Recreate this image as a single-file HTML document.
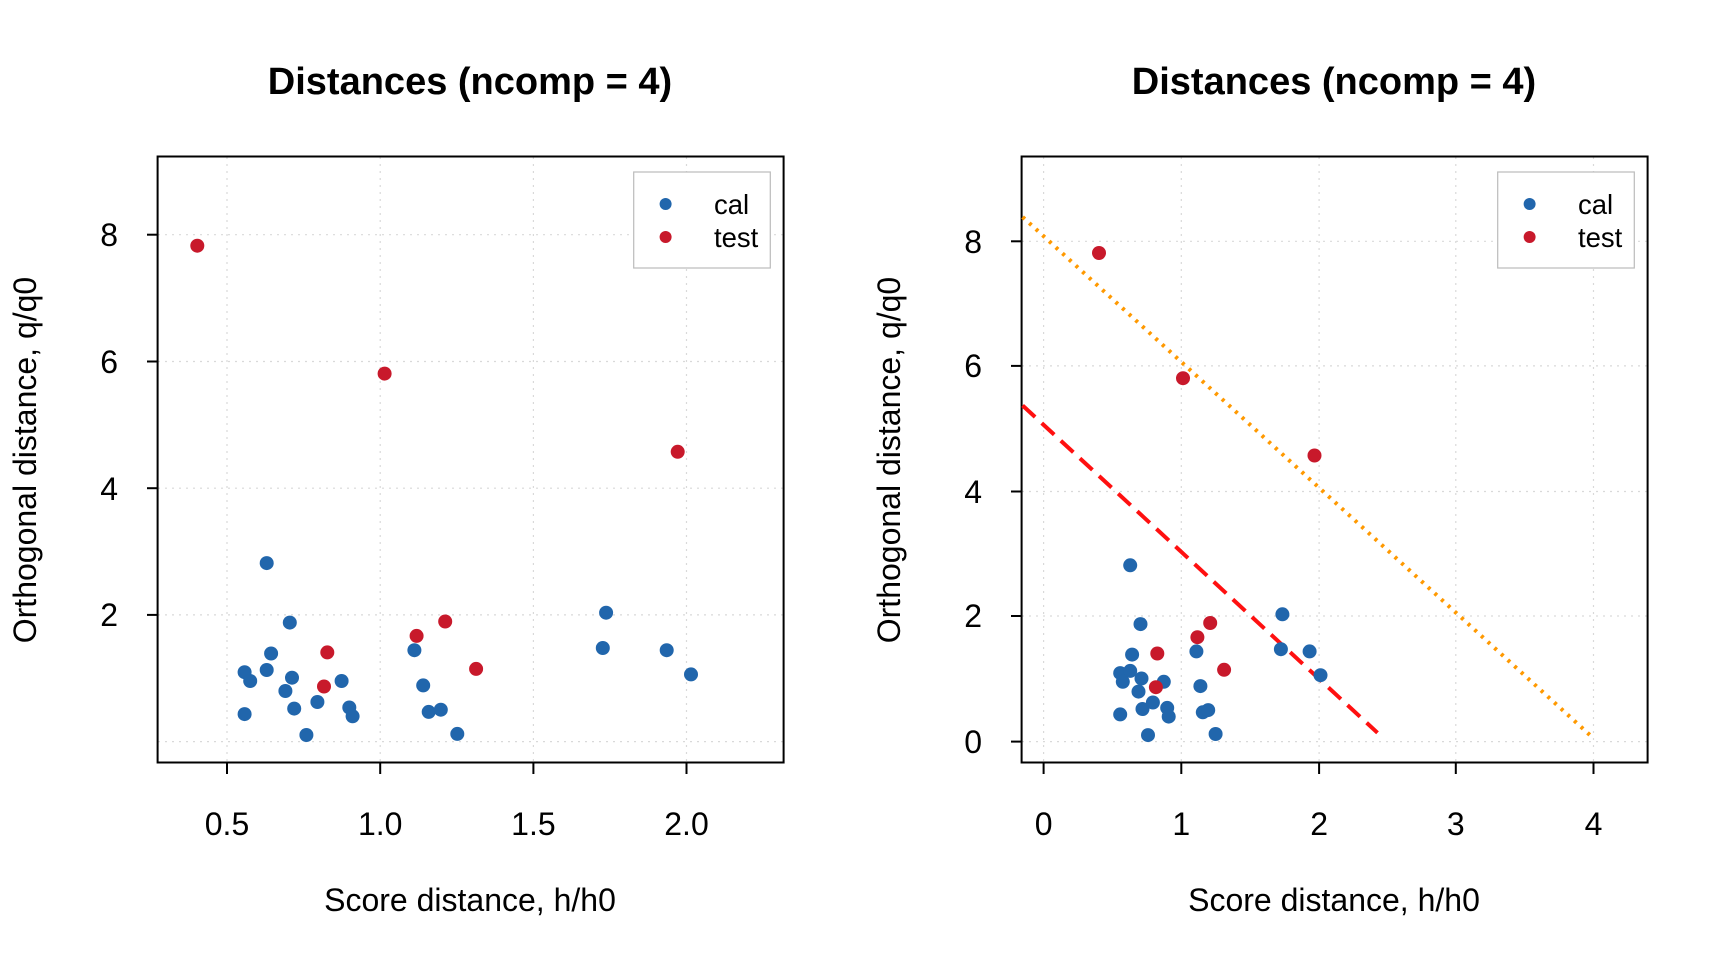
<!DOCTYPE html>
<html><head><meta charset="utf-8"><style>
html,body{margin:0;padding:0;background:#fff;}
svg{display:block;font-family:"Liberation Sans",Arial,sans-serif;}
circle{r:7px;}
</style></head><body>
<svg width="1728" height="960" viewBox="0 0 1728 960" xmlns="http://www.w3.org/2000/svg">
<rect width="1728" height="960" fill="#fff"/>
<!-- LEFT PLOT -->
<g stroke="#d9d9d9" stroke-width="1.2" stroke-dasharray="2,5">
<line x1="227" y1="157" x2="227" y2="763"/><line x1="380.2" y1="157" x2="380.2" y2="763"/>
<line x1="533.4" y1="157" x2="533.4" y2="763"/><line x1="686.5" y1="157" x2="686.5" y2="763"/>
<line x1="158" y1="234.7" x2="784" y2="234.7"/><line x1="158" y1="361.5" x2="784" y2="361.5"/>
<line x1="158" y1="488.2" x2="784" y2="488.2"/><line x1="158" y1="614.9" x2="784" y2="614.9"/>
<line x1="158" y1="741.6" x2="784" y2="741.6"/>
</g>
<rect x="157.6" y="156.5" width="626" height="606" fill="none" stroke="#000" stroke-width="2"/>
<g stroke="#000" stroke-width="2">
<line x1="227" y1="763" x2="227" y2="774"/><line x1="380.2" y1="763" x2="380.2" y2="774"/>
<line x1="533.4" y1="763" x2="533.4" y2="774"/><line x1="686.5" y1="763" x2="686.5" y2="774"/>
<line x1="147" y1="234.7" x2="157.6" y2="234.7"/><line x1="147" y1="361.5" x2="157.6" y2="361.5"/>
<line x1="147" y1="488.2" x2="157.6" y2="488.2"/><line x1="147" y1="614.9" x2="157.6" y2="614.9"/>
</g>
<g font-size="32" fill="#000" text-anchor="middle">
<text x="227" y="835">0.5</text><text x="380.2" y="835">1.0</text><text x="533.4" y="835">1.5</text><text x="686.5" y="835">2.0</text>
</g>
<g font-size="32" fill="#000" text-anchor="end">
<text x="118" y="246">8</text><text x="118" y="373">6</text><text x="118" y="500">4</text><text x="118" y="626">2</text>
</g>
<text x="470" y="94" font-size="38" font-weight="bold" text-anchor="middle">Distances (ncomp = 4)</text>
<text x="470" y="911" font-size="32" text-anchor="middle">Score distance, h/h0</text>
<text transform="translate(36,460) rotate(-90)" font-size="32" text-anchor="middle">Orthogonal distance, q/q0</text>
<g fill="#2166ac">
<circle cx="244.6" cy="714.1" r="7"/><circle cx="244.6" cy="672.2" r="7"/><circle cx="250.2" cy="681" r="7"/>
<circle cx="266.7" cy="563.1" r="7"/><circle cx="266.7" cy="670" r="7"/><circle cx="271.1" cy="653.5" r="7"/>
<circle cx="289.8" cy="622.6" r="7"/><circle cx="285.4" cy="691" r="7"/><circle cx="292" cy="677.7" r="7"/>
<circle cx="294.2" cy="708.6" r="7"/><circle cx="306.4" cy="735" r="7"/><circle cx="317.4" cy="702" r="7"/>
<circle cx="341.6" cy="681" r="7"/><circle cx="349.3" cy="707.5" r="7"/><circle cx="352.6" cy="716.3" r="7"/>
<circle cx="414.4" cy="650.2" r="7"/><circle cx="423.2" cy="685.4" r="7"/><circle cx="428.7" cy="711.9" r="7"/>
<circle cx="440.8" cy="709.7" r="7"/><circle cx="457.3" cy="733.9" r="7"/><circle cx="602.8" cy="648" r="7"/>
<circle cx="606.1" cy="612.7" r="7"/><circle cx="666.7" cy="650.2" r="7"/><circle cx="691" cy="674.4" r="7"/>
</g>
<g fill="#c8192b">
<circle cx="197.3" cy="245.7" r="7"/><circle cx="384.6" cy="373.6" r="7"/><circle cx="677.7" cy="451.8" r="7"/>
<circle cx="327.3" cy="652.4" r="7"/><circle cx="324" cy="686.5" r="7"/><circle cx="416.6" cy="635.9" r="7"/>
<circle cx="445.2" cy="621.5" r="7"/><circle cx="476.1" cy="668.9" r="7"/>
</g>
<rect x="633.7" y="172" width="136.6" height="96" fill="#fff" stroke="#bbb" stroke-width="1.2"/>
<circle cx="665.6" cy="204" r="6" style="r:6px" fill="#2166ac"/><circle cx="665.6" cy="237" r="6" style="r:6px" fill="#c8192b"/>
<g font-size="27.5"><text x="714" y="214">cal</text><text x="714" y="247">test</text></g>

<!-- RIGHT PLOT -->
<g stroke="#d9d9d9" stroke-width="1.2" stroke-dasharray="2,5">
<line x1="1043.6" y1="157" x2="1043.6" y2="763"/><line x1="1181.3" y1="157" x2="1181.3" y2="763"/>
<line x1="1319.1" y1="157" x2="1319.1" y2="763"/><line x1="1455.8" y1="157" x2="1455.8" y2="763"/>
<line x1="1593.5" y1="157" x2="1593.5" y2="763"/>
<line x1="1022" y1="241.3" x2="1647" y2="241.3"/><line x1="1022" y1="365.9" x2="1647" y2="365.9"/>
<line x1="1022" y1="491.5" x2="1647" y2="491.5"/><line x1="1022" y1="616" x2="1647" y2="616"/>
<line x1="1022" y1="741.6" x2="1647" y2="741.6"/>
</g>
<rect x="1021.6" y="156.5" width="626" height="606" fill="none" stroke="#000" stroke-width="2"/>
<g stroke="#000" stroke-width="2">
<line x1="1043.6" y1="763" x2="1043.6" y2="774"/><line x1="1181.3" y1="763" x2="1181.3" y2="774"/>
<line x1="1319.1" y1="763" x2="1319.1" y2="774"/><line x1="1455.8" y1="763" x2="1455.8" y2="774"/>
<line x1="1593.5" y1="763" x2="1593.5" y2="774"/>
<line x1="1011" y1="241.3" x2="1021.6" y2="241.3"/><line x1="1011" y1="365.9" x2="1021.6" y2="365.9"/>
<line x1="1011" y1="491.5" x2="1021.6" y2="491.5"/><line x1="1011" y1="616" x2="1021.6" y2="616"/>
<line x1="1011" y1="741.6" x2="1021.6" y2="741.6"/>
</g>
<g font-size="32" fill="#000" text-anchor="middle">
<text x="1043.6" y="835">0</text><text x="1181.3" y="835">1</text><text x="1319.1" y="835">2</text><text x="1455.8" y="835">3</text><text x="1593.5" y="835">4</text>
</g>
<g font-size="32" fill="#000" text-anchor="end">
<text x="982" y="253">8</text><text x="982" y="377">6</text><text x="982" y="503">4</text><text x="982" y="627">2</text><text x="982" y="753">0</text>
</g>
<text x="1334" y="94" font-size="38" font-weight="bold" text-anchor="middle">Distances (ncomp = 4)</text>
<text x="1334" y="911" font-size="32" text-anchor="middle">Score distance, h/h0</text>
<text transform="translate(900,460) rotate(-90)" font-size="32" text-anchor="middle">Orthogonal distance, q/q0</text>
<line x1="1022.6" y1="217" x2="1593.5" y2="738.3" stroke="#ff9900" stroke-width="4" stroke-dasharray="3,6"/>
<line x1="1022.6" y1="405.5" x2="1377.5" y2="732.8" stroke="#ff1010" stroke-width="4" stroke-dasharray="17,9"/>
<g fill="#2166ac">
<circle cx="1120.2" cy="714.4" r="7"/><circle cx="1120.2" cy="673.1" r="7"/><circle cx="1122.8" cy="681.8" r="7"/>
<circle cx="1130.2" cy="565.3" r="7"/><circle cx="1130.2" cy="670.9" r="7"/><circle cx="1132.1" cy="654.6" r="7"/>
<circle cx="1140.5" cy="624.1" r="7"/><circle cx="1138.5" cy="691.6" r="7"/><circle cx="1141.5" cy="678.5" r="7"/>
<circle cx="1142.5" cy="709" r="7"/><circle cx="1148" cy="735.1" r="7"/><circle cx="1152.9" cy="702.5" r="7"/>
<circle cx="1163.8" cy="681.8" r="7"/><circle cx="1167.2" cy="707.9" r="7"/><circle cx="1168.7" cy="716.6" r="7"/>
<circle cx="1196.4" cy="651.4" r="7"/><circle cx="1200.4" cy="686.1" r="7"/><circle cx="1202.8" cy="712.3" r="7"/>
<circle cx="1208.2" cy="710.1" r="7"/><circle cx="1215.6" cy="734" r="7"/><circle cx="1280.9" cy="649.2" r="7"/>
<circle cx="1282.4" cy="614.3" r="7"/><circle cx="1309.6" cy="651.4" r="7"/><circle cx="1320.5" cy="675.2" r="7"/>
</g>
<g fill="#c8192b">
<circle cx="1099" cy="253" r="7"/><circle cx="1183" cy="378.2" r="7"/><circle cx="1314.5" cy="455.5" r="7"/>
<circle cx="1157.3" cy="653.5" r="7"/><circle cx="1155.9" cy="687.2" r="7"/><circle cx="1197.4" cy="637.2" r="7"/>
<circle cx="1210.2" cy="623" r="7"/><circle cx="1224.1" cy="669.8" r="7"/>
</g>
<rect x="1497.7" y="172" width="136.6" height="96" fill="#fff" stroke="#bbb" stroke-width="1.2"/>
<circle cx="1529.6" cy="204" r="6" style="r:6px" fill="#2166ac"/><circle cx="1529.6" cy="237" r="6" style="r:6px" fill="#c8192b"/>
<g font-size="27.5"><text x="1578" y="214">cal</text><text x="1578" y="247">test</text></g>
</svg>
</body></html>
